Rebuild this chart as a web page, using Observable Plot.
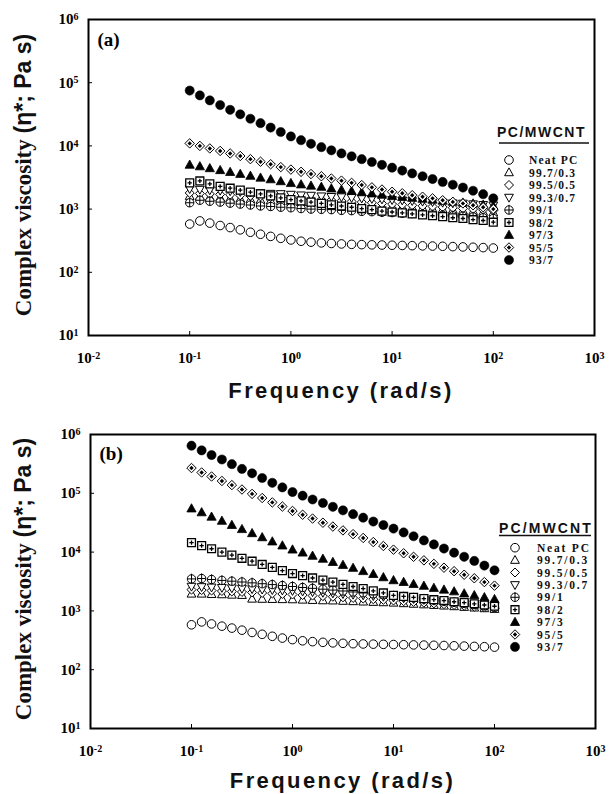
<!DOCTYPE html>
<html><head><meta charset="utf-8">
<script src="https://cdn.jsdelivr.net/npm/d3@7"></script>
<script src="https://cdn.jsdelivr.net/npm/@observablehq/plot@0.6"></script>
<style>
body{margin:0;background:#fff;width:609px;height:794px;overflow:hidden}
#chart{position:relative;width:609px;height:794px}
.panel{position:absolute;left:0}
</style></head><body><div id="chart"></div>
<script>
// ---------- data ----------
const freqs = [0.1,0.126,0.158,0.2,0.251,0.316,0.398,0.501,0.631,0.794,1,1.26,1.58,2,2.51,3.16,3.98,5.01,6.31,7.94,10,12.6,15.8,20,25.1,31.6,39.8,50.1,63.1,79.4,100];
const seriesNames = ["Neat PC","99.7/0.3","99.5/0.5","99.3/0.7","99/1","98/2","97/3","95/5","93/7"];
const xTicks = [0.01,0.1,1,10,100,1000];
const yTicks = [10,100,1000,1e4,1e5,1e6];
const legendTitle = "PC/MWCNT";
const panelLabels = ["(a)","(b)"];

const neatPC = [580,650,600,550,510,470,430,400,370,345,325,310,300,292,286,281,277,274,272,270,268,266,264,262,260,258,255,252,249,246,242];

// panel (a)
const a997 = [1600,1570,1540,1510,1480,1450,1420,1390,1360,1330,1300,1280,1260,1240,1220,1200,1180,1160,1140,1120,1100,1080,1060,1040,1010,990,970,950,925,900,880];
const a995 = [1800,1770,1740,1710,1680,1650,1620,1590,1560,1530,1500,1470,1440,1410,1380,1350,1320,1290,1260,1230,1200,1175,1150,1125,1100,1075,1050,1025,1000,975,950];
const a993 = [2090,2040,2000,1970,1930,1880,1840,1800,1760,1740,1700,1660,1640,1600,1570,1550,1510,1480,1460,1430,1400,1380,1350,1320,1300,1270,1240,1230,1200,1170,1150];
const a991 = [1260,1380,1330,1290,1240,1200,1160,1120,1100,1070,1050,1020,1000,990,980,955,945,920,910,890,880,860,850,830,810,800,785,770,750,730,710];
const a982 = [2600,2790,2510,2290,2140,2000,1860,1740,1620,1510,1410,1350,1290,1230,1170,1120,1070,1020,980,930,900,870,840,810,785,760,730,710,680,660,620];
const a973 = [5010,4730,4420,4120,3850,3590,3350,3130,2950,2750,2570,2450,2340,2240,2110,2020,1930,1840,1760,1680,1600,1550,1500,1450,1400,1350,1300,1260,1220,1170,1120];
const a955 = [10960,10000,9120,8320,7590,6920,6170,5620,5130,4620,4220,3890,3590,3310,3050,2820,2600,2400,2210,2040,1880,1780,1660,1570,1480,1380,1300,1230,1150,1070,1000];
const a937 = [75000,63000,52500,44200,37200,31600,26900,22900,19500,16600,14100,12300,10800,9550,8500,7600,6840,6170,5560,5010,4520,4070,3670,3310,2990,2690,2430,2190,1950,1720,1480];

// panel (b)
const b997 = [1950,1950,1920,1900,1870,1850,1600,1590,1580,1570,1560,1540,1520,1500,1490,1470,1450,1430,1410,1390,1370,1340,1310,1280,1250,1220,1190,1160,1130,1100,1070];
const b995 = [2300,2260,2220,2180,2140,2100,2060,2020,1980,1940,1900,1860,1820,1780,1740,1700,1660,1620,1580,1540,1500,1460,1420,1380,1340,1300,1260,1220,1180,1140,1100];
const b993 = [2600,2560,2520,2480,2440,2400,2360,2320,2280,2240,2200,2150,2100,2050,2000,1950,1900,1850,1800,1750,1700,1650,1600,1550,1500,1450,1400,1350,1300,1250,1200];
const b991 = [3500,3550,3420,3300,3200,3100,3000,2900,2800,2700,2600,2500,2420,2340,2260,2180,2100,2030,1950,1880,1800,1730,1660,1590,1520,1460,1400,1340,1280,1220,1150];
const b982 = [14500,12900,11400,10000,8910,7850,7000,6170,5500,4840,4320,3980,3630,3350,3090,2820,2600,2400,2190,2020,1840,1760,1700,1620,1550,1500,1430,1380,1320,1260,1200];
const b973 = [55000,47300,39800,33900,28800,24500,20900,17800,15100,12900,11000,9770,8610,7670,6760,6030,5370,4730,4220,3720,3310,3090,2850,2660,2450,2290,2140,1970,1840,1700,1580];
const b955 = [269000,226000,193000,162000,138000,116000,97700,83200,70000,59600,50100,43200,37200,31600,27200,23400,20200,17400,14800,12700,11000,9550,8320,7240,6310,5430,4730,4120,3590,3090,2690];
const b937 = [645000,537000,447000,376000,313000,260000,219000,182000,151000,126000,105000,91200,78500,68400,58900,51300,44200,38500,33100,28800,25100,21600,18600,15800,13500,11500,9770,8320,7080,5890,4900];

const panelA = [neatPC,a997,a995,a993,a991,a982,a973,a955,a937];
const panelB = [neatPC,b997,b995,b993,b991,b982,b973,b955,b937];

// ---------- symbols ----------
const rad = s => Math.sqrt(s/Math.PI);
const circleSym = {draw(c,s){const r=rad(s);c.moveTo(r,0);c.arc(0,0,r,0,2*Math.PI);c.closePath();}};
const triUpSym = {draw(c,s){const r=rad(s)*1.1;c.moveTo(0,-r);c.lineTo(r*0.95,r*0.7);c.lineTo(-r*0.95,r*0.7);c.closePath();}};
const triDownSym = {draw(c,s){const r=rad(s)*1.1;c.moveTo(0,r);c.lineTo(r*0.95,-r*0.7);c.lineTo(-r*0.95,-r*0.7);c.closePath();}};
const diamondSym = {draw(c,s){const r=rad(s)*1.1;c.moveTo(0,-r);c.lineTo(r,0);c.lineTo(0,r);c.lineTo(-r,0);c.closePath();}};
const circlePlusSym = {draw(c,s){const r=rad(s);c.moveTo(r,0);c.arc(0,0,r,0,2*Math.PI);c.closePath();c.moveTo(-r,0);c.lineTo(r,0);c.moveTo(0,-r-1);c.lineTo(0,r);}};
const squarePlusSym = {draw(c,s){const r=rad(s)*0.92;c.moveTo(-r,-r);c.lineTo(r,-r);c.lineTo(r,r);c.lineTo(-r,r);c.closePath();c.moveTo(-r*0.55,0);c.lineTo(r*0.55,0);c.moveTo(0,-r*0.55);c.lineTo(0,r*0.55);}};

const styles = [
  {sym:circleSym, r:4.3, fill:"#fff", stroke:"#000", sw:1},
  {sym:triUpSym, r:4.2, fill:"#fff", stroke:"#000", sw:1},
  {sym:diamondSym, r:4.1, fill:"#fff", stroke:"#000", sw:1},
  {sym:triDownSym, r:4.2, fill:"#fff", stroke:"#000", sw:1},
  {sym:circlePlusSym, r:4.2, fill:"#fff", stroke:"#000", sw:1},
  {sym:squarePlusSym, r:4.3, fill:"#fff", stroke:"#000", sw:1.3},
  {sym:triUpSym, r:4.4, fill:"#000", stroke:"#000", sw:0.8},
  {sym:diamondSym, r:4.3, fill:"#fff", stroke:"#000", sw:1, inner:diamondSym, innerR:2.0},
  {sym:circleSym, r:4.6, fill:"#000", stroke:"#000", sw:0.5}
];

function seriesMarks(values) {
  const marks = [];
  values.forEach((vals, k) => {
    const st = styles[k];
    const data = freqs.map((f,i) => ({f, v: vals[i], s: seriesNames[k]}));
    marks.push(Plot.dot(data, {x:"f", y:"v", symbol: st.sym, r: st.r, fill: st.fill, stroke: st.stroke, strokeWidth: st.sw}));
    if (st.inner) marks.push(Plot.dot(data, {x:"f", y:"v", symbol: st.inner, r: st.innerR, fill:"#000", stroke:"none"}));
  });
  return marks;
}

const fmt = d => "10^" + Math.round(Math.log10(d));

function makePanel(values, cfg) {
  const svg = Plot.plot({
    width: 609, height: cfg.height,
    marginLeft: cfg.ml, marginRight: cfg.mr, marginTop: cfg.mt, marginBottom: cfg.mb,
    style: {fontFamily: "'Liberation Serif', serif", fontSize: "15px", fontWeight: "bold", color: "#000", background: "transparent", overflow: "visible"},
    x: {type: "log", domain: [0.01, 1000], label: null},
    y: {type: "log", domain: [10, 1e6], label: null},
    marks: [
      Plot.axisX({ticks: xTicks, tickFormat: fmt, tickSize: -4, tickPadding: 21, label: null, fontSize: 15, fontWeight: "bold"}),
      Plot.axisY({ticks: yTicks, tickFormat: fmt, tickSize: -4, tickPadding: 14, label: null, fontSize: 15, fontWeight: "bold"}),
      ...seriesMarks(values),
      Plot.frame({strokeWidth: 2}),
      Plot.text([cfg.label], {frameAnchor: "top-left", textAnchor: "start", lineAnchor: "middle", dx: 9, dy: cfg.labelDy, fontSize: 19, fontWeight: "bold", fontFamily: "'Liberation Serif', serif"})
    ]
  });
  const s = d3.select(svg);
  // superscript tick labels
  s.selectAll("text").each(function() {
    const m = /^10\^(-?\d+)$/.exec(this.textContent);
    if (m) {
      const el = d3.select(this);
      el.text(null);
      el.append("tspan").text("10");
      el.append("tspan").attr("dy", "-0.42em").attr("font-size", "10px").text(m[1]);
    }
  });
  const L = cfg.ml, R = 609 - cfg.mr, T = cfg.mt, B = cfg.height - cfg.mb;
  // y title
  const yt = s.append("text")
    .attr("transform", `translate(31,${(T + B) / 2 - 2}) rotate(-90)`)
    .attr("text-anchor", "middle").attr("font-size", 23).attr("font-weight", "bold").attr("fill", "#111");
  yt.append("tspan").attr("font-family", "'Liberation Serif', serif").text("Complex viscosity ");
  yt.append("tspan").attr("font-family", "'Liberation Sans', sans-serif").text("(η*; Pa s)");
  // x title
  s.append("text").attr("x", (L + R) / 2).attr("y", B + cfg.xtOff)
    .attr("text-anchor", "middle").attr("font-family", "'Liberation Sans', sans-serif")
    .attr("font-weight", "bold").attr("font-size", 22).attr("letter-spacing", 2.4).attr("fill", "#111")
    .text("Frequency (rad/s)");
  // legend
  const lg = cfg.legend;
  const g = s.append("g").attr("text-anchor", "start");
  g.append("text").attr("x", lg.hx).attr("y", lg.hy).attr("text-anchor", "start")
    .attr("font-family", "'Liberation Sans', sans-serif").attr("font-weight", "bold")
    .attr("font-size", 14).attr("letter-spacing", lg.hls).attr("fill", "#111").text(legendTitle);
  g.append("line").attr("x1", lg.ux1).attr("x2", lg.ux2).attr("y1", lg.uy).attr("y2", lg.uy)
    .attr("stroke", "#111").attr("stroke-width", 1.3);
  seriesNames.forEach((name, k) => {
    const st = styles[k];
    const y = lg.y0 + k * lg.dy;
    g.append("path").attr("transform", `translate(${lg.sx},${y})`)
      .attr("d", d3.symbol(st.sym, Math.PI * st.r * st.r)())
      .attr("fill", st.fill).attr("stroke", st.stroke).attr("stroke-width", st.sw);
    if (st.inner) g.append("path").attr("transform", `translate(${lg.sx},${y})`)
      .attr("d", d3.symbol(st.inner, Math.PI * st.innerR * st.innerR)()).attr("fill", "#000");
    g.append("text").attr("x", lg.tx).attr("y", y + 4).attr("text-anchor", "start")
      .attr("font-family", "'Liberation Serif', serif").attr("font-weight", "bold")
      .attr("font-size", 11.5).attr("letter-spacing", lg.tls).attr("fill", "#111").text(name);
  });
  return svg;
}

const chart = document.getElementById("chart");
const svgA = makePanel(panelA, {
  height: 404, ml: 88, mr: 15, mt: 19, mb: 69, label: panelLabels[0], labelDy: 20.5, xtOff: 63,
  legend: {hx: 497, hy: 137, hls: 1.5, ux1: 499, ux2: 589, uy: 143, y0: 160, dy: 12.5, sx: 509, tx: 529, tls: 1.2}
});
svgA.classList.add("panel"); svgA.style.top = "0px";
chart.appendChild(svgA);
const svgB = makePanel(panelB, {
  height: 390, ml: 90, mr: 14, mt: 30, mb: 66, label: panelLabels[1], labelDy: 19.5, xtOff: 60,
  legend: {hx: 499, hy: 129, hls: 2.1, ux1: 499, ux2: 591, uy: 131.5, y0: 143.7, dy: 12.4, sx: 515, tx: 537, tls: 1.8}
});
svgB.classList.add("panel"); svgB.style.top = "404px";
chart.appendChild(svgB);
</script>
</body></html>
